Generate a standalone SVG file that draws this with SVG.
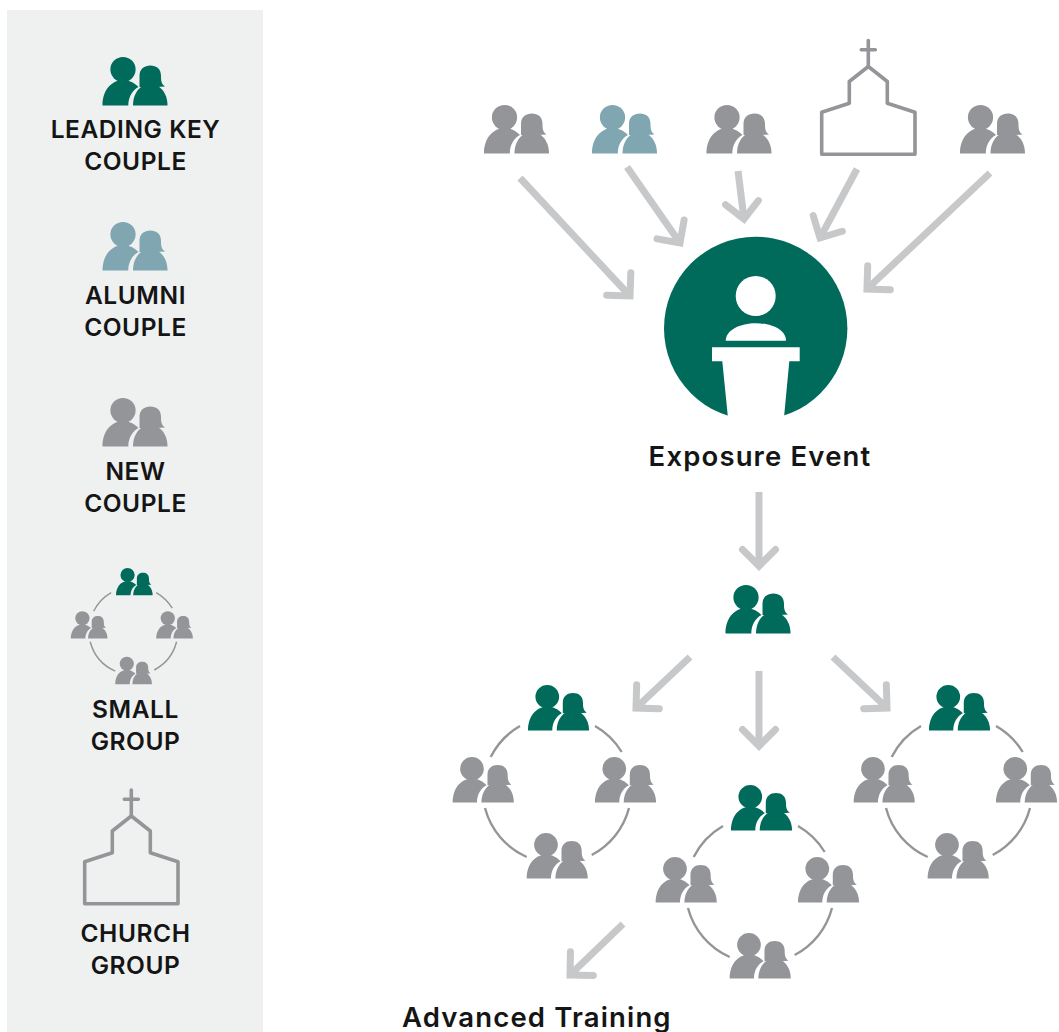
<svg xmlns="http://www.w3.org/2000/svg" width="1059" height="1032" viewBox="0 0 1059 1032">
<style>
.g{fill:#006b5b}.t{fill:#7fa6b1}.n{fill:#939598}
.lbl{font-family:"Inter","Liberation Sans",sans-serif;font-weight:600;font-size:24.5px;letter-spacing:.55px;fill:#151515;text-anchor:middle}
.ttl{font-family:"Inter","Liberation Sans",sans-serif;font-weight:600;font-size:27.5px;letter-spacing:1.15px;fill:#151515}
.arc{fill:none;stroke:#939598;stroke-width:2.4}
.ch{fill:none;stroke:#939598;stroke-width:3.6;stroke-linejoin:round;stroke-linecap:round}
.ar{fill:none;stroke:#c7c8ca;stroke-width:7;marker-end:url(#ah)}
</style>
<defs>
<marker id="ah" markerUnits="userSpaceOnUse" viewBox="-30 -30 42 60" markerWidth="42" markerHeight="60" refX="0" refY="0" orient="auto" overflow="visible">
<path d="M-16.5,-16.5 L0,0 L-16.5,16.5" fill="none" stroke="#c7c8ca" stroke-width="7" stroke-miterlimit="10" stroke-linecap="round"/>
</marker>
<g id="cp">
<circle cx="20.5" cy="12.5" r="12.6"/>
<path d="M0,48.5C0,35 7,24 20,23C27,23 32,26 36,30C30,33 25.8,40 25.8,48.5Z"/>
<path d="M30.5,48.5C30.5,36 38,27 47.5,27C57.5,27 65,36 65,48.5Z"/>
<path d="M37,30L37,19C37,12 42,8.6 47.8,8.6C54,8.6 58.5,12 58.5,19C58.5,24 59,27 62.5,29.5L54,30Z"/>
</g>
<g id="cm"><path class="ch" d="M0,113.7V71.7L27.6,62.7V41L46.6,26L65.6,41V62.7L93.3,71.7V113.7Z"/><path class="ch" d="M46.6,0V26M39.6,9.3H53.6"/></g>
<g id="ring">
<path class="arc" d="M-8,41A74,74 0 0 0 -37.3,72"/>
<path class="arc" d="M67,41A74,74 0 0 1 93.7,67"/>
<path class="arc" d="M-43,123A74,74 0 0 0 -1.3,172"/>
<path class="arc" d="M101,123A74,74 0 0 1 63.7,170"/>
<use href="#cp" class="g" transform="scale(.94)"/>
<use href="#cp" class="n" transform="translate(-75.3,72) scale(.94)"/>
<use href="#cp" class="n" transform="translate(67,72) scale(.94)"/>
<use href="#cp" class="n" transform="translate(-1.3,148) scale(.94)"/>
</g>
</defs>
<rect id="panel" x="7" y="10" width="256" height="1022" fill="#eff1f0"/>
<g id="connectors">
<path class="ar" d="M520,178L630,296"/>
<path class="ar" d="M627,167L680,243"/>
<path class="ar" d="M738,171L744,219"/>
<path class="ar" d="M857,169L820,238"/>
<path class="ar" d="M990,173L867,289"/>
<path class="ar" d="M759,492L759,566"/>
<path class="ar" d="M690,657L636,708"/>
<path class="ar" d="M759,671L759,746"/>
<path class="ar" d="M833,657L887,708"/>
<path class="ar" d="M623,924L570,975"/>
</g>
<g id="legend-leading"><use href="#cp" class="g" transform="translate(102.5,57)"/><text class="lbl" x="135.5" y="138">LEADING KEY</text><text class="lbl" x="135.5" y="170">COUPLE</text></g>
<g id="legend-alumni"><use href="#cp" class="t" transform="translate(102.5,222)"/><text class="lbl" x="135.5" y="304">ALUMNI</text><text class="lbl" x="135.5" y="336">COUPLE</text></g>
<g id="legend-new"><use href="#cp" class="n" transform="translate(102.5,398)"/><text class="lbl" x="135.5" y="480">NEW</text><text class="lbl" x="135.5" y="512">COUPLE</text></g>
<g id="legend-small"><use href="#ring" transform="translate(116,568) scale(.6)"/><text class="lbl" x="135.5" y="718">SMALL</text><text class="lbl" x="135.5" y="750">GROUP</text></g>
<g id="legend-church"><use href="#cm" transform="translate(84.7,790)"/><text class="lbl" x="135.5" y="942">CHURCH</text><text class="lbl" x="135.5" y="974">GROUP</text></g>
<g id="top-1"><use href="#cp" class="n" transform="translate(484,105)"/></g>
<g id="top-2"><use href="#cp" class="t" transform="translate(592,105)"/></g>
<g id="top-3"><use href="#cp" class="n" transform="translate(706.5,105)"/></g>
<g id="top-church"><use href="#cm" transform="translate(821.7,40.5)"/></g>
<g id="top-5"><use href="#cp" class="n" transform="translate(960,105)"/></g>
<g id="event">
<circle cx="755.7" cy="328.4" r="91.7" fill="#006b5b"/>
<circle cx="755.7" cy="296" r="20" fill="#fff"/>
<path fill="#fff" d="M725.7,340.7C726,330 740,323.3 756,323.3C772,323.3 786,330 786,340.7Z"/>
<path fill="#fff" d="M712,347.3H799.7V361.3H789.3L783.3,425H728.7L722.3,361.3H712Z"/>
<text class="ttl" x="760" y="466" text-anchor="middle">Exposure Event</text>
</g>
<g id="lead"><use href="#cp" class="g" transform="translate(725.5,585)"/></g>
<g id="ring-1"><use href="#ring" transform="translate(528,685)"/></g>
<g id="ring-2"><use href="#ring" transform="translate(731,785)"/></g>
<g id="ring-3"><use href="#ring" transform="translate(929,685)"/></g>
<g id="advanced"><text class="ttl" x="402" y="1027">Advanced Training</text></g>
</svg>
